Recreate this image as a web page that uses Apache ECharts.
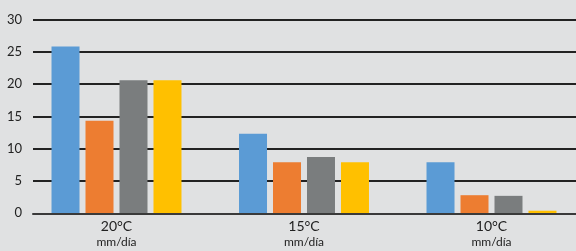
<!DOCTYPE html>
<html>
<head>
<meta charset="UTF-8"/>
<title></title>
<script src="https://cdn.jsdelivr.net/npm/echarts@6/dist/echarts.min.js"></script>
<style>
html,body{margin:0;padding:0;background:#e0e1e2;overflow:hidden;}
/* chart is a bit wider than the window: the last group runs to the edge */
#placeholder{width:586px;height:251px;}
</style>
</head>
<body>
<div id="placeholder"></div>
<script type="text/javascript">
var categories = ['20°C', '15°C', '10°C'];
var unitLabel = 'mm/día';
var serie1 = [25.8, 12.3, 7.9];
var serie2 = [14.3, 7.9, 2.8];
var serie3 = [20.6, 8.7, 2.7];
var serie4 = [20.6, 7.9, 0.4];
var colors = ['#5b9bd5', '#ed7d31', '#7a7d7e', '#ffc000'];

var myChart = echarts.init(document.getElementById('placeholder'));

function bar(name, data, color) {
    return {
        name: name,
        type: 'bar',
        xAxisIndex: 1,
        yAxisIndex: 1,
        barWidth: 28,
        barGap: '21.4%',
        itemStyle: { color: color },
        data: data
    };
}

var option = {
    backgroundColor: '#e0e1e2',
    animation: false,
    grid: [
        // grid lines and y labels
        { left: 33, right: 10, top: 19.4, bottom: 37.7 },
        // bars
        { left: 22.75, right: 0.75, top: 19.4, bottom: 37.7 }
    ],
    xAxis: [
        {
            gridIndex: 0,
            type: 'value',
            min: 0, max: 1,
            z: 10,
            axisLine: { show: true, onZero: false, lineStyle: { color: '#3a3a3a', width: 2 } },
            axisTick: { show: false },
            axisLabel: { show: false },
            splitLine: { show: false }
        },
        {
            gridIndex: 1,
            type: 'category',
            data: categories,
            axisLine: { show: false },
            axisTick: { show: false },
            axisLabel: {
                margin: 6,
                formatter: function (v) { return '{a|' + v + '}\n{b|' + unitLabel + '}'; },
                rich: {
                    a: { fontSize: 14, color: '#222', lineHeight: 15, fontFamily: 'Lato' },
                    b: { fontSize: 12, color: '#222', lineHeight: 15, fontFamily: 'Lato' }
                }
            }
        }
    ],
    yAxis: [
        {
            gridIndex: 0,
            type: 'value',
            min: 0, max: 30, interval: 5,
            axisLine: { show: false },
            axisTick: { show: false },
            axisLabel: { margin: 11, fontSize: 13, color: '#222', fontFamily: 'Lato' },
            splitLine: { show: true, lineStyle: { color: '#222', width: 2 } }
        },
        {
            gridIndex: 1,
            type: 'value',
            min: 0, max: 30, interval: 5,
            axisLine: { show: false },
            axisTick: { show: false },
            axisLabel: { show: false },
            splitLine: { show: false }
        }
    ],
    series: [
        bar('s1', serie1, colors[0]),
        bar('s2', serie2, colors[1]),
        bar('s3', serie3, colors[2]),
        bar('s4', serie4, colors[3])
    ]
};
myChart.setOption(option, true);
</script>
</body>
</html>
